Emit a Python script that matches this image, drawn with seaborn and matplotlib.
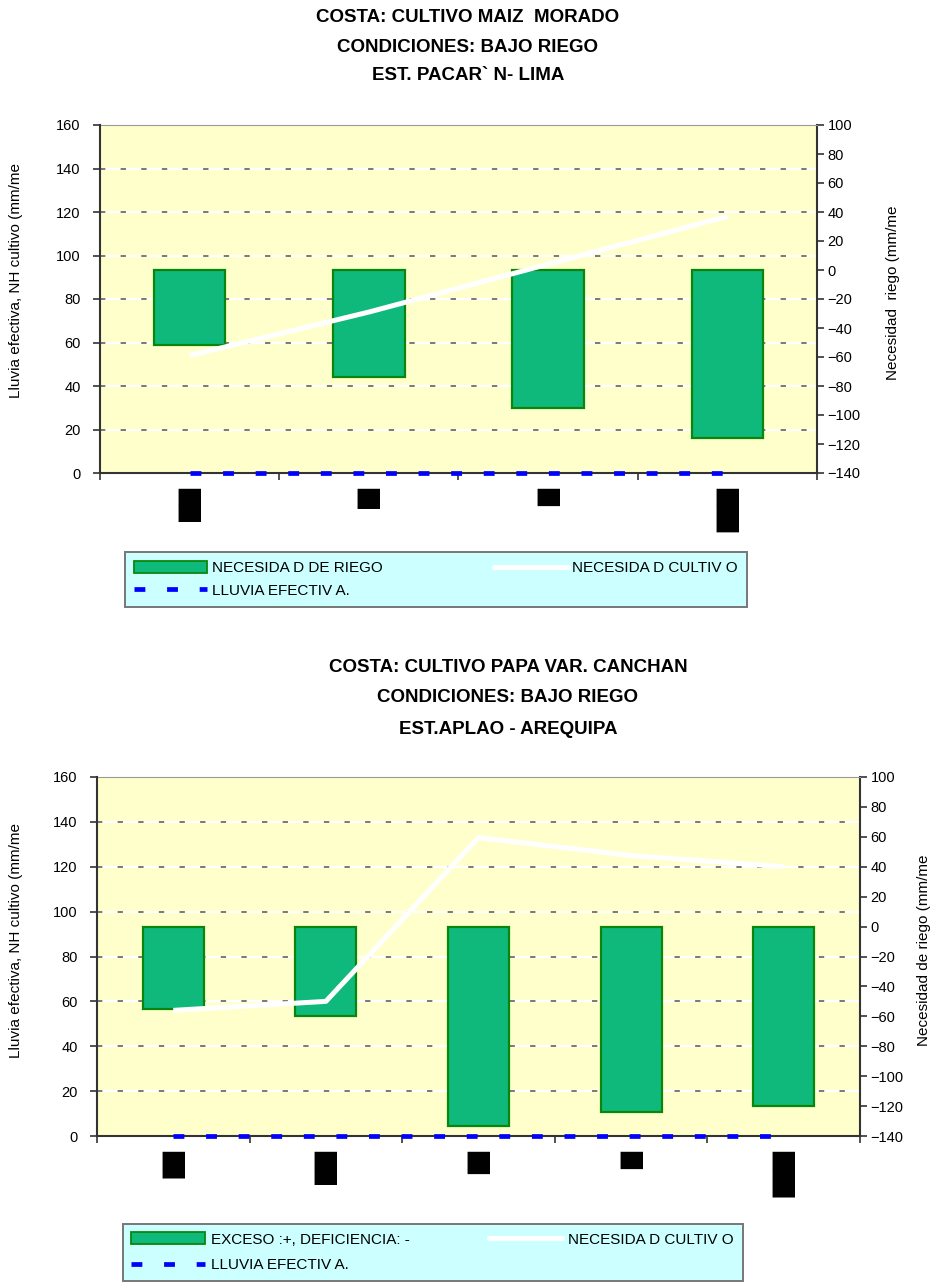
import numpy as np
import matplotlib.pyplot as plt
import matplotlib.transforms as mtransforms
from matplotlib.patches import Patch
from matplotlib.lines import Line2D
import seaborn as sns

sns.set_style("white")
plt.rcParams['font.family'] = ['Liberation Sans', 'DejaVu Sans']
plt.rcParams['text.color'] = 'black'
plt.rcParams['axes.labelcolor'] = 'black'
plt.rcParams['xtick.color'] = 'black'
plt.rcParams['ytick.color'] = 'black'

# ---- chart 1: maiz morado, Pacaran - Lima
title_1 = ["COSTA: CULTIVO MAIZ  MORADO", "CONDICIONES: BAJO RIEGO", "EST. PACAR` N- LIMA"]
# month names come out as solid black boxes in the original, keep them as block glyphs
months_1 = ["██", "█▎", "█", "██▋"]
nec_riego_1 = [-52, -74, -95, -116]
nec_cultivo_1 = [54, 74, 96, 118]
lluvia_1 = [0, 0, 0, 0]
legend_1 = ["NECESIDA D DE RIEGO", "LLUVIA EFECTIV A.", "NECESIDA D CULTIV O"]
ylabel_left_1 = "Lluvia efectiva, NH cultivo (mm/me"
ylabel_right_1 = "Necesidad  riego (mm/me"

# ---- chart 2: papa var. canchan, Aplao - Arequipa
title_2 = ["COSTA: CULTIVO PAPA VAR. CANCHAN", "CONDICIONES: BAJO RIEGO", "EST.APLAO - AREQUIPA"]
months_2 = ["█▋", "██", "█▍", "█", "██▊"]
nec_riego_2 = [-55, -60, -133, -124, -120]
nec_cultivo_2 = [56, 60, 133, 125, 120]
lluvia_2 = [0, 0, 0, 0, 0]
legend_2 = ["EXCESO :+, DEFICIENCIA: -", "LLUVIA EFECTIV A.", "NECESIDA D CULTIV O"]
ylabel_left_2 = "Lluvia efectiva, NH cultivo (mm/me"
ylabel_right_2 = "Necesidad de riego (mm/me"

left_ticks = [0, 20, 40, 60, 80, 100, 120, 140, 160]
right_ticks = [-140, -120, -100, -80, -60, -40, -20, 0, 20, 40, 60, 80, 100]

W, H = 937, 1286
BAR_FILL = '#0FB97C'
BAR_EDGE = '#0A870A'
BLUE = '#0000FF'
DARK = '#333333'


def fx(x):
    return x / W


def fy(y):
    return 1 - y / H


def draw_chart(fig, rect, months, riego, cultivo, lluvia):
    ax_r = fig.add_axes(rect)
    ax_r.set_facecolor('#FFFFCC')
    ax_l = ax_r.twinx()
    pos = np.arange(len(months))

    # grid follows the left scale but sits under the bars
    trans = mtransforms.blended_transform_factory(ax_r.transAxes, ax_l.transData)
    grid_vals = left_ticks[1:-1]
    ax_r.hlines(grid_vals, 0, 1, transform=trans, colors='white', lw=1.6, zorder=0.5)
    ax_r.hlines(grid_vals, 0, 1, transform=trans, colors='#555555', lw=1.1,
                linestyles=[(0, (3.5, 10))], zorder=0.6)

    sns.barplot(x=months, y=riego, ax=ax_r, width=0.4, color=BAR_FILL, saturation=1,
                edgecolor=BAR_EDGE, linewidth=1.6, zorder=2)

    sns.lineplot(x=pos, y=cultivo, ax=ax_l, color='white', lw=3.6,
                 solid_capstyle='butt', zorder=3)
    sns.lineplot(x=pos, y=lluvia, ax=ax_l, color=BLUE, lw=3.4,
                 linestyle=(0, (2.3, 4.6)), dash_capstyle='butt', clip_on=False, zorder=4)

    ax_r.set_xlim(-0.5, len(months) - 0.5)
    ax_r.set_ylim(-140, 100)
    ax_l.set_ylim(0, 160)

    ax_l.yaxis.tick_left()
    ax_l.yaxis.set_label_position('left')
    ax_l.set_yticks(left_ticks)
    ax_l.tick_params(axis='y', direction='out', length=5, width=1.2, color=DARK,
                     labelsize=10.5, pad=9)
    ax_r.yaxis.tick_right()
    ax_r.yaxis.set_label_position('right')
    ax_r.set_yticks(right_ticks)
    ax_r.tick_params(axis='y', direction='out', length=5, width=1.2, color=DARK,
                     labelsize=10.5, pad=2.5)

    # category borders get the tick marks, month boxes sit in between
    ax_r.set_xticks(np.arange(len(months) + 1) - 0.5, labels=[])
    ax_r.tick_params(axis='x', which='major', bottom=True, direction='out',
                     length=5, width=1.2, color=DARK)
    ax_r.set_xticks(pos, labels=months, minor=True, rotation=270,
                    fontfamily='DejaVu Sans', fontsize=15.8, color='black')
    ax_r.tick_params(axis='x', which='minor', bottom=True, length=0, pad=10)
    ax_r.set_xlabel('')

    ax_r.spines['left'].set_visible(False)
    ax_r.spines['top'].set_color('#999999')
    for side in ['right', 'bottom']:
        ax_r.spines[side].set_color(DARK)
        ax_r.spines[side].set_linewidth(1.5)
    for side in ['top', 'right', 'bottom']:
        ax_l.spines[side].set_visible(False)
    ax_l.spines['left'].set_color(DARK)
    ax_l.spines['left'].set_linewidth(1.5)
    return ax_l, ax_r


def legend_handles():
    return [Patch(facecolor=BAR_FILL, edgecolor=BAR_EDGE, lw=1.3),
            Line2D([], [], color=BLUE, lw=3.4, linestyle=(0, (2.3, 4.6)), dash_capstyle='butt'),
            Line2D([], [], color='white', lw=3.6)]


fig = plt.figure(figsize=(W / 100, H / 100), dpi=100)

# ---------- top chart
for line, y in zip(title_1, [18, 47, 75]):
    fig.text(fx(468), fy(y), line, ha='center', va='center', fontsize=13.5, fontweight='bold')

ax_l, ax_r = draw_chart(fig, [fx(100), fy(473), fx(817) - fx(100), fy(125) - fy(473)],
                        months_1, nec_riego_1, nec_cultivo_1, lluvia_1)
ax_l.set_ylabel(ylabel_left_1, fontsize=11)
ax_l.yaxis.set_label_coords(fx(23), fy(281), transform=fig.transFigure)
ax_r.set_ylabel(ylabel_right_1, fontsize=11)
ax_r.yaxis.set_label_coords(fx(886), fy(293), transform=fig.transFigure)

leg = fig.legend(legend_handles(), legend_1, loc='upper left',
                 bbox_to_anchor=(fx(125), fy(609), fx(747) - fx(125), fy(552) - fy(609)),
                 mode='expand', ncol=2, fontsize=11, handlelength=4.8, handleheight=0.8,
                 handletextpad=0.3, borderpad=0.6, labelspacing=0.55, borderaxespad=0,
                 fancybox=False, facecolor='#CCFFFF', edgecolor='#777777', framealpha=1)
leg.get_frame().set_linewidth(1.4)

# ---------- bottom chart
for line, y in zip(title_2, [667, 697, 729]):
    fig.text(fx(508), fy(y), line, ha='center', va='center', fontsize=13.5, fontweight='bold')

ax_l2, ax_r2 = draw_chart(fig, [fx(97), fy(1136), fx(860) - fx(97), fy(777) - fy(1136)],
                          months_2, nec_riego_2, nec_cultivo_2, lluvia_2)
ax_l2.set_ylabel(ylabel_left_2, fontsize=11)
ax_l2.yaxis.set_label_coords(fx(23), fy(940), transform=fig.transFigure)
ax_r2.set_ylabel(ylabel_right_2, fontsize=11)
ax_r2.yaxis.set_label_coords(fx(917), fy(950), transform=fig.transFigure)

leg2 = fig.legend(legend_handles(), legend_2, loc='upper left',
                  bbox_to_anchor=(fx(123), fy(1224)),
                  ncol=2, fontsize=11, handlelength=4.8, handleheight=0.8,
                  handletextpad=0.4, borderpad=0.55, labelspacing=0.75, columnspacing=5.2,
                  borderaxespad=0,
                  fancybox=False, facecolor='#CCFFFF', edgecolor='#777777', framealpha=1)
leg2.get_frame().set_linewidth(1.4)

fig.savefig('out.png', dpi=100)
